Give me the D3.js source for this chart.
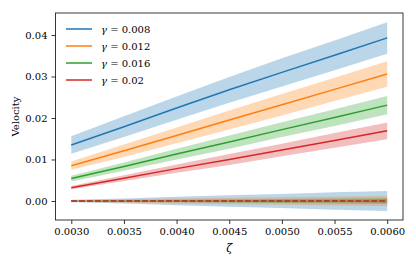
<!DOCTYPE html>
<html><head><meta charset="utf-8">
<script src="https://cdn.jsdelivr.net/npm/d3@7"></script>
<style>body{margin:0;background:#fff}svg{display:block}text{font-family:"DejaVu Serif",serif}</style>
</head><body><svg id="c" width="416" height="265"></svg>
<script>
const zeta = [0.003, 0.0035, 0.004, 0.0045, 0.005, 0.0055, 0.006];
const gammaLabels = ["0.008", "0.012", "0.016", "0.02"];
const colors = ["#1f77b4", "#ff7f0e", "#2ca02c", "#d62728"];
const meanVel = [
  [0.0135, 0.0179, 0.0224, 0.0268, 0.0310, 0.0351, 0.0393],
  [0.0085, 0.0121, 0.0158, 0.0195, 0.0232, 0.0269, 0.0306],
  [0.0054, 0.0083, 0.0113, 0.0142, 0.0172, 0.0201, 0.0231],
  [0.0032, 0.0055, 0.0078, 0.0100, 0.0123, 0.0146, 0.0169]
];
const spreadVel = [
  [0.0021, 0.0025, 0.0028, 0.0031, 0.0034, 0.0036, 0.0038],
  [0.0010, 0.0015, 0.0019, 0.0023, 0.0026, 0.0028, 0.0031],
  [0.0007, 0.0010, 0.0013, 0.0016, 0.0018, 0.0020, 0.0022],
  [0.0004, 0.0007, 0.0010, 0.0013, 0.0015, 0.0018, 0.0020]
];
const zeroMean = [
  [0, 0, 0, 0, 0, 0, 0],
  [0, 0, 0, 0, 0, 0, 0],
  [0, 0, 0, 0, 0, 0, 0],
  [0, 0, 0, 0, 0, 0, 0]
];
const zeroSpread = [
  [0.0003, 0.0006, 0.0010, 0.0014, 0.0017, 0.0021, 0.0024],
  [0.0002, 0.0004, 0.0006, 0.0008, 0.0009, 0.0011, 0.0012],
  [0.0001, 0.0002, 0.0003, 0.0004, 0.0005, 0.0006, 0.0007],
  [0.0001, 0.0001, 0.0002, 0.0002, 0.0003, 0.0003, 0.0004]
];
const xTicks = [0.003, 0.0035, 0.004, 0.0045, 0.005, 0.0055, 0.006];
const yTicks = [0, 0.01, 0.02, 0.03, 0.04];

const FONT = "DejaVu Serif, serif";
const FS = 10;
const svg = d3.select("#c");
const L = 55.5, R = 403, T = 13, B = 220;
const x = d3.scaleLinear().domain([0.00285, 0.00615]).range([L, R]);
const y = d3.scaleLinear().domain([-0.00458, 0.0453]).range([B, T]);

const area = d3.area().x((d,i)=>x(zeta[i])).y0(d=>y(d[0]-d[1])).y1(d=>y(d[0]+d[1]));
const line = d3.line().x((d,i)=>x(zeta[i])).y(d=>y(d));
const g = svg.append("g");
for (let s = 0; s < 4; s++) {
  const pts = meanVel[s].map((m,i)=>[m, spreadVel[s][i]]);
  g.append("path").attr("d", area(pts)).attr("fill", colors[s]).attr("fill-opacity", 0.3);
  g.append("path").attr("d", line(meanVel[s])).attr("fill","none").attr("stroke", colors[s]).attr("stroke-width", 1.5);
}
for (let s = 0; s < 4; s++) {
  const pts = zeroMean[s].map((m,i)=>[m, zeroSpread[s][i]]);
  g.append("path").attr("d", area(pts)).attr("fill", colors[s]).attr("fill-opacity", 0.3);
}
for (let s = 0; s < 4; s++) {
  g.append("path").attr("d", line(zeroMean[s])).attr("fill","none").attr("stroke", colors[s])
    .attr("stroke-width", 1.5).attr("stroke-dasharray", "5.5,2.4");
}

const xa = svg.append("g").attr("transform", `translate(0,${B})`)
  .call(d3.axisBottom(x).tickValues(xTicks).tickFormat(d3.format(".4f")).tickSizeOuter(0).tickSize(4).tickPadding(4));
const ya = svg.append("g").attr("transform", `translate(${L},0)`)
  .call(d3.axisLeft(y).tickValues(yTicks).tickFormat(d3.format(".2f")).tickSizeOuter(0).tickSize(4).tickPadding(4));
[xa, ya].forEach(a => { a.selectAll("text").attr("font-size", FS).attr("fill","#000").attr("font-family", FONT); a.select(".domain").remove(); a.selectAll("line").attr("stroke","#000").attr("stroke-width",0.8); });

svg.append("rect").attr("x", L).attr("y", T).attr("width", R-L).attr("height", B-T)
  .attr("fill","none").attr("stroke","#222").attr("stroke-width",0.9);

svg.append("text").attr("x", x(0.0045)).attr("y", 252).attr("text-anchor","middle")
  .attr("font-family", FONT).attr("font-size", 11).attr("font-style","italic").text("ζ");
svg.append("text").attr("transform", `translate(19,${(T+B)/2}) rotate(-90)`).attr("text-anchor","middle")
  .attr("font-family", FONT).attr("font-size", FS).text("Velocity");

const lg = svg.append("g");
gammaLabels.forEach((lab, i) => {
  const yy = 29 + i*17;
  lg.append("line").attr("x1", 66).attr("x2", 92).attr("y1", yy).attr("y2", yy).attr("stroke", colors[i]).attr("stroke-width", 1.5);
  const t = lg.append("text").attr("x", 101).attr("y", yy + 4).attr("font-size", FS).attr("font-family", FONT);
  t.append("tspan").attr("font-style","italic").text("γ");
  t.append("tspan").text(" = " + lab);
});
</script></body></html>
